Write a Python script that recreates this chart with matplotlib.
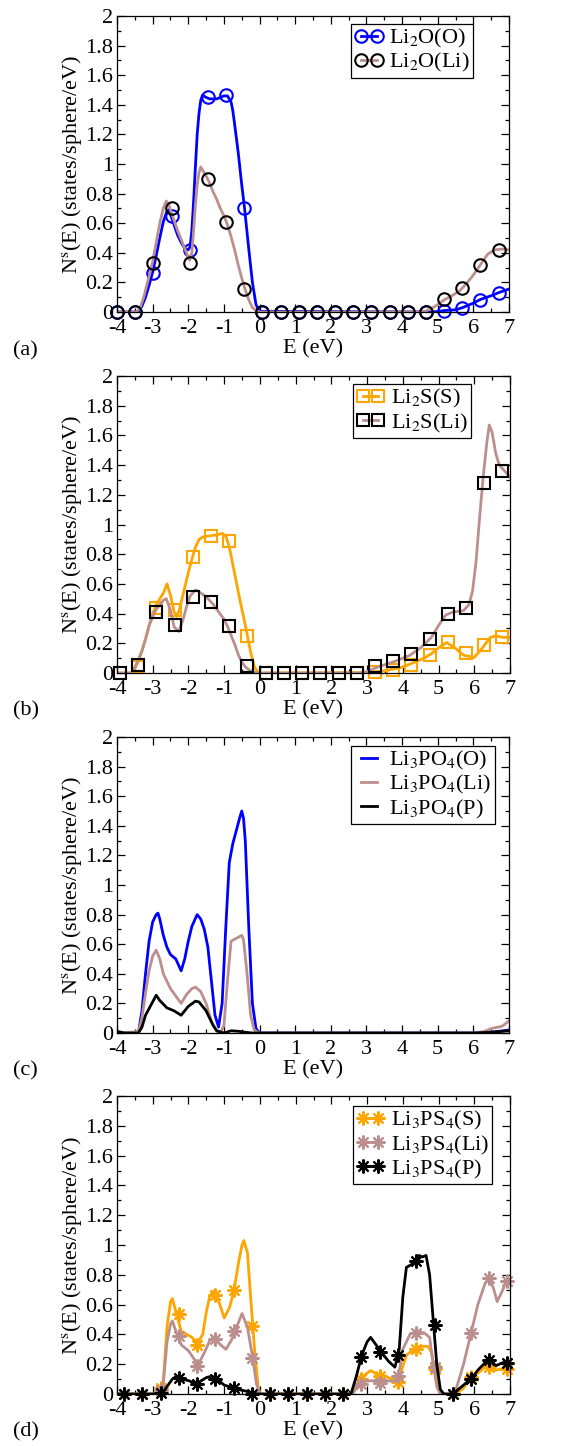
import matplotlib
matplotlib.use('Agg')
import matplotlib.pyplot as plt
from matplotlib.lines import Line2D
from matplotlib.ticker import MultipleLocator, FuncFormatter

plt.rcParams['font.family'] = ['Liberation Serif', 'STIXGeneral', 'DejaVu Serif']
plt.rcParams['mathtext.fontset'] = 'stix'
plt.rcParams['axes.unicode_minus'] = False

BLUE = '#0000FF'
BROWN = '#BC8F8F'
ORANGE = '#FFA500'
BLACK = '#000000'

# ---------------- panel (a): Li2O ----------------
a_E_O = [-4, -3.4, -3.3, -3.2, -3.1, -3.0, -2.9, -2.8, -2.7, -2.6, -2.55, -2.5, -2.4, -2.3, -2.2,
         -2.1, -2.0, -1.95, -1.9, -1.85, -1.8, -1.75, -1.7, -1.65, -1.6, -1.5, -1.4, -1.3, -1.2,
         -1.1, -1.0, -0.9, -0.8, -0.75, -0.7, -0.6, -0.5, -0.42, -0.3, -0.2, -0.1, 0.0,
         4.8, 5.0, 5.2, 5.5, 5.7, 6.0, 6.2, 6.5, 6.7, 7.0]
a_N_O = [0, 0, 0.04, 0.10, 0.18, 0.27, 0.38, 0.50, 0.61, 0.68, 0.69, 0.66, 0.59, 0.52, 0.47,
         0.43, 0.42, 0.44, 0.55, 0.75, 0.98, 1.20, 1.34, 1.43, 1.465, 1.45, 1.44, 1.44, 1.44,
         1.45, 1.46, 1.46, 1.42, 1.36, 1.27, 1.08, 0.86, 0.70, 0.42, 0.20, 0.05, 0.005,
         0.0, 0.003, 0.01, 0.015, 0.03, 0.06, 0.085, 0.11, 0.13, 0.155]
a_E_Li = [-4, -3.45, -3.35, -3.25, -3.1, -3.0, -2.9, -2.8, -2.7, -2.62, -2.55, -2.5, -2.4, -2.3,
          -2.2, -2.1, -2.0, -1.96, -1.9, -1.85, -1.8, -1.75, -1.7, -1.65, -1.6, -1.5, -1.4, -1.3,
          -1.2, -1.1, -1.0, -0.9, -0.8, -0.7, -0.6, -0.5, -0.4, -0.3, -0.2, -0.1, 0.0,
          4.6, 4.8, 5.0, 5.2, 5.4, 5.6, 5.8, 6.0, 6.2, 6.4, 6.6, 6.8, 7.0]
a_N_Li = [0, 0, 0.03, 0.10, 0.24, 0.34, 0.47, 0.60, 0.70, 0.75, 0.73, 0.69, 0.62, 0.55,
          0.49, 0.43, 0.37, 0.35, 0.40, 0.55, 0.72, 0.86, 0.94, 0.98, 0.96, 0.92, 0.87, 0.81,
          0.76, 0.70, 0.65, 0.59, 0.51, 0.42, 0.32, 0.23, 0.15, 0.08, 0.03, 0.01, 0.0,
          0.0, 0.02, 0.05, 0.085, 0.11, 0.14, 0.19, 0.25, 0.32, 0.39, 0.42, 0.425, 0.42]
a_mkE = [-4.0, -3.49, -2.98, -2.47, -1.96, -1.45, -0.94, -0.43, 0.08, 0.59, 1.10, 1.61, 2.12,
         2.63, 3.14, 3.65, 4.16, 4.67, 5.18, 5.69, 6.20, 6.71]
a_mk_O = [0, 0, 0.265, 0.65, 0.42, 1.455, 1.465, 0.70, 0, 0, 0, 0, 0, 0, 0, 0, 0, 0,
          0.005, 0.027, 0.083, 0.13]
a_mk_Li = [0, 0, 0.33, 0.70, 0.33, 0.90, 0.61, 0.155, 0, 0, 0, 0, 0, 0, 0, 0, 0, 0,
           0.09, 0.16, 0.32, 0.42]

# ---------------- panel (b): Li2S ----------------
b_E_S = [-4, -3.6, -3.5, -3.4, -3.3, -3.2, -3.1, -3.0, -2.9, -2.8, -2.7, -2.6, -2.5, -2.4, -2.33,
         -2.25, -2.1, -2.0, -1.9, -1.8, -1.7, -1.6, -1.5, -1.35, -1.2, -1.05, -0.95, -0.85, -0.75,
         -0.65, -0.55, -0.45, -0.35, -0.25, -0.15, -0.05, 0.0,
         3.0, 3.5, 4.0, 4.3, 4.6, 4.8, 5.0, 5.23, 5.45, 5.7, 6.0, 6.2, 6.45, 6.6, 6.8, 7.0]
b_N_S = [0, 0, 0.03, 0.08, 0.15, 0.23, 0.32, 0.40, 0.46, 0.50, 0.54, 0.60, 0.52, 0.41, 0.38,
         0.43, 0.58, 0.68, 0.77, 0.85, 0.90, 0.915, 0.92, 0.925, 0.93, 0.94, 0.92, 0.84, 0.72,
         0.60, 0.48, 0.37, 0.25, 0.13, 0.04, 0.005, 0.0,
         0.003, 0.015, 0.04, 0.07, 0.10, 0.13, 0.17, 0.205, 0.17, 0.12, 0.105, 0.16, 0.24, 0.25, 0.24, 0.24]
b_E_Li = [-4, -3.6, -3.5, -3.4, -3.3, -3.2, -3.1, -3.0, -2.9, -2.8, -2.7, -2.62, -2.5, -2.4,
          -2.27, -2.15, -2.05, -1.95, -1.8, -1.6, -1.45, -1.3, -1.15, -1.0, -0.9, -0.8, -0.7,
          -0.6, -0.5, -0.4, -0.3, -0.2, -0.1, 0.0,
          2.8, 3.0, 3.3, 3.8, 4.2, 4.5, 4.8, 5.0, 5.2, 5.4, 5.7, 5.85, 5.95, 6.05, 6.15, 6.25,
          6.35, 6.42, 6.5, 6.6, 6.7, 6.85, 7.0]
b_N_Li = [0, 0, 0.04, 0.09, 0.15, 0.23, 0.32, 0.38, 0.43, 0.46, 0.49, 0.50, 0.42, 0.31,
          0.28, 0.36, 0.45, 0.52, 0.56, 0.53, 0.50, 0.46, 0.41, 0.36, 0.31, 0.25, 0.19,
          0.12, 0.07, 0.04, 0.02, 0.01, 0.003, 0.0,
          0.0, 0.01, 0.04, 0.08, 0.12, 0.17, 0.24, 0.32, 0.39, 0.41, 0.42, 0.46, 0.55, 0.75, 1.05, 1.32,
          1.55, 1.67, 1.62, 1.48, 1.40, 1.36, 1.32]
b_mkE = [-3.92, -3.41, -2.90, -2.39, -1.88, -1.37, -0.86, -0.35, 0.16, 0.67, 1.18, 1.69, 2.20,
         2.71, 3.22, 3.73, 4.24, 4.75, 5.26, 5.77, 6.28, 6.79]
b_mk_S = [0, 0.04, 0.437, 0.425, 0.78, 0.92, 0.89, 0.25, 0, 0, 0, 0, 0, 0,
          0.007, 0.02, 0.056, 0.123, 0.21, 0.134, 0.19, 0.24]
b_mk_Li = [0, 0.056, 0.41, 0.32, 0.51, 0.477, 0.314, 0.045, 0, 0, 0, 0, 0, 0,
           0.05, 0.083, 0.13, 0.23, 0.40, 0.44, 1.28, 1.36]

# ---------------- panel (c): Li3PO4 ----------------
c_E_O = [-4, -3.8, -3.4, -3.3, -3.2, -3.1, -3.0, -2.9, -2.85, -2.8, -2.7, -2.6, -2.5, -2.35,
         -2.2, -2.1, -2.0, -1.9, -1.75, -1.65, -1.55, -1.45, -1.35, -1.25, -1.15, -1.05, -0.95,
         -0.85, -0.75, -0.65, -0.55, -0.5, -0.45, -0.4, -0.3, -0.2, -0.1, 0.0,
         6.0, 6.5, 7.0]
c_N_O = [0.01, 0.0, 0.0, 0.15, 0.40, 0.62, 0.75, 0.80, 0.81, 0.77, 0.66, 0.58, 0.53, 0.50,
         0.42, 0.50, 0.62, 0.72, 0.80, 0.77, 0.70, 0.58, 0.35, 0.12, 0.04, 0.20, 0.70,
         1.15, 1.28, 1.37, 1.46, 1.50, 1.45, 1.30, 0.70, 0.20, 0.03, 0.0,
         0.0, 0.005, 0.02]
c_E_Li = [-4, -3.8, -3.4, -3.3, -3.2, -3.1, -3.0, -2.9, -2.8, -2.7, -2.5, -2.35, -2.2, -2.05,
          -1.9, -1.8, -1.65, -1.5, -1.35, -1.2, -1.1, -1.0, -0.9, -0.8, -0.65, -0.5, -0.45,
          -0.35, -0.25, -0.15, 0.0,
          6.0, 6.3, 6.5, 6.8, 7.0]
c_N_Li = [0.01, 0.0, 0.01, 0.10, 0.27, 0.42, 0.52, 0.56, 0.50, 0.40, 0.30, 0.25, 0.20, 0.26,
          0.30, 0.31, 0.28, 0.20, 0.08, 0.01, 0.0, 0.05, 0.35, 0.62, 0.64, 0.66, 0.63,
          0.40, 0.12, 0.02, 0.0,
          0.0, 0.01, 0.03, 0.045, 0.08]
c_E_P = [-4, -3.8, -3.4, -3.3, -3.2, -3.0, -2.9, -2.8, -2.6, -2.4, -2.2, -2.0, -1.8, -1.7,
         -1.5, -1.3, -1.2, -1.0, -0.8, -0.6, -0.4, -0.2, 0.0,
         6.0, 6.5, 7.0]
c_N_P = [0.01, 0.0, 0.0, 0.04, 0.12, 0.21, 0.255, 0.22, 0.17, 0.15, 0.12, 0.18, 0.215, 0.21,
         0.15, 0.05, 0.015, 0.0, 0.015, 0.012, 0.005, 0.0, 0.0,
         0.0, 0.005, 0.015]

# ---------------- panel (d): Li3PS4 ----------------
d_E_S = [-4, -2.75, -2.7, -2.6, -2.5, -2.45, -2.35, -2.2, -2.05, -1.9, -1.75, -1.6, -1.5, -1.4,
         -1.3, -1.15, -1.0, -0.85, -0.72, -0.6, -0.5, -0.45, -0.35, -0.25, -0.15, -0.05, 0.0,
         2.55, 2.7, 2.85, 3.0, 3.1, 3.3, 3.5, 3.7, 3.85, 3.95, 4.1, 4.3, 4.5, 4.7, 4.8, 4.9,
         5.0, 5.1, 5.5, 5.7, 5.9, 6.1, 6.3, 6.45, 6.6, 6.8, 7.0]
d_N_S = [0, 0, 0.10, 0.45, 0.62, 0.64, 0.55, 0.42, 0.40, 0.38, 0.34, 0.40, 0.55, 0.66,
         0.69, 0.62, 0.51, 0.58, 0.70, 0.88, 1.0, 1.03, 0.95, 0.62, 0.30, 0.05, 0.0,
         0.0, 0.06, 0.11, 0.14, 0.157, 0.13, 0.12, 0.10, 0.08, 0.15, 0.26, 0.30, 0.32, 0.32, 0.28, 0.15,
         0.03, 0.0, 0.0, 0.04, 0.11, 0.14, 0.18, 0.19, 0.16, 0.17, 0.19]
d_E_Li = [-4, -2.75, -2.7, -2.6, -2.5, -2.45, -2.35, -2.2, -2.0, -1.8, -1.7, -1.55, -1.4, -1.3,
          -1.1, -0.95, -0.8, -0.65, -0.5, -0.35, -0.2, -0.1, 0.0,
          2.6, 2.75, 2.9, 3.2, 3.5, 3.8, 3.9, 4.0, 4.2, 4.4, 4.6, 4.75, 4.85, 4.95, 5.05,
          5.35, 5.5, 5.7, 5.9, 6.1, 6.3, 6.42, 6.55, 6.64, 6.8, 6.93, 7.0]
d_N_Li = [0, 0, 0.08, 0.35, 0.47, 0.49, 0.42, 0.33, 0.29, 0.22, 0.21, 0.28, 0.36, 0.38,
          0.33, 0.30, 0.36, 0.45, 0.54, 0.45, 0.24, 0.07, 0.0,
          0.0, 0.06, 0.085, 0.09, 0.09, 0.085, 0.15, 0.30, 0.40, 0.42, 0.41, 0.38, 0.20, 0.05, 0.0,
          0.0, 0.04, 0.20, 0.40, 0.60, 0.74, 0.78, 0.70, 0.62, 0.70, 0.78, 0.74]
d_E_P = [-4, -2.75, -2.6, -2.45, -2.33, -2.2, -2.0, -1.8, -1.7, -1.5, -1.35, -1.2, -1.0, -0.8,
         -0.6, -0.4, -0.2, 0.0,
         2.55, 2.7, 2.85, 3.0, 3.1, 3.25, 3.4, 3.6, 3.78, 3.9, 4.0, 4.1, 4.25, 4.35, 4.45, 4.55,
         4.65, 4.75, 4.85, 4.95, 5.05, 5.15, 5.4, 5.6, 5.9, 6.1, 6.3, 6.45, 6.6, 6.8, 7.0]
d_N_P = [0, 0, 0.05, 0.10, 0.12, 0.10, 0.09, 0.07, 0.08, 0.11, 0.12, 0.10, 0.06, 0.045,
         0.03, 0.02, 0.005, 0.0,
         0.0, 0.12, 0.26, 0.35, 0.38, 0.33, 0.28, 0.22, 0.18, 0.30, 0.65, 0.85, 0.87, 0.88, 0.93, 0.92,
         0.93, 0.80, 0.50, 0.20, 0.03, 0.0, 0.0, 0.04, 0.10, 0.16, 0.21, 0.23, 0.19, 0.21, 0.22]
d_mkE = [-3.80, -3.29, -2.78, -2.27, -1.76, -1.25, -0.73, -0.22, 0.29, 0.80, 1.31, 1.82, 2.33,
         2.84, 3.35, 3.87, 4.38, 4.89, 5.40, 5.91, 6.42, 6.93]
d_mk_S = [0, 0, 0.04, 0.535, 0.33, 0.665, 0.70, 0.457, 0, 0, 0, 0, 0,
          0.10, 0.123, 0.083, 0.30, 0.166, 0, 0.117, 0.18, 0.17]
d_mk_Li = [0, 0, 0.03, 0.386, 0.188, 0.368, 0.42, 0.24, 0, 0, 0, 0, 0,
           0.07, 0.075, 0.121, 0.41, 0.18, 0, 0.41, 0.778, 0.756]
d_mk_P = [0, 0, 0.01, 0.11, 0.065, 0.10, 0.04, 0.0, 0, 0, 0, 0, 0,
          0.25, 0.28, 0.26, 0.89, 0.46, 0, 0.10, 0.23, 0.21]

x_ticks = [-4, -3, -2, -1, 0, 1, 2, 3, 4, 5, 6, 7]
y_ticks = [0, 0.2, 0.4, 0.6, 0.8, 1.0, 1.2, 1.4, 1.6, 1.8, 2.0]

FS = 16
W, H = 565, 1446
fig = plt.figure(figsize=(W / 100, H / 100), dpi=100)

# axes pixel boxes: (left, top, right, bottom)
boxes = [(117, 16, 509, 312), (117, 376, 510, 673), (117, 737, 509, 1033), (117, 1096, 510, 1394)]
panel_tags = ['(a)', '(b)', '(c)', '(d)']
tag_y = [351, 711, 1071, 1432]
axes = []
for (l, t, r, b) in boxes:
    ax = fig.add_axes([l / W, 1 - b / H, (r - l) / W, (b - t) / H])
    ax.set_xlim(-4, 7)
    ax.set_ylim(0, 2)
    ax.set_xticks(x_ticks)
    ax.set_yticks(y_ticks)
    ax.xaxis.set_minor_locator(MultipleLocator(0.5))
    ax.yaxis.set_minor_locator(MultipleLocator(0.1))
    fmt = FuncFormatter(lambda v, p: '%g' % v)
    ax.xaxis.set_major_formatter(fmt)
    ax.yaxis.set_major_formatter(fmt)
    ax.tick_params(which='both', direction='in', top=True, right=True, labelsize=FS, width=0.9)
    ax.tick_params(which='major', length=6)
    ax.tick_params(axis='x', which='major', pad=5)
    ax.tick_params(axis='y', which='major', pad=3)
    ax.tick_params(which='minor', length=3)
    for s in ax.spines.values():
        s.set_linewidth(0.9)
    ax.set_xlabel('E (eV)', fontsize=FS)
    ax.set_ylabel(r'N$^{\rm s}$(E) (states/sphere/eV)', fontsize=FS)
    ax.xaxis.set_label_coords(0.5, -0.092)
    ax.yaxis.set_label_coords(-0.083, 0.5)
    axes.append(ax)

for ty, tag in zip(tag_y, panel_tags):
    fig.text(13 / W, 1 - ty / H, tag, fontsize=FS, va='center', ha='left')

LW = 2.0
leg_kw = dict(fontsize=FS, frameon=True, fancybox=False, framealpha=1, edgecolor='black',
              handlelength=1.3, handletextpad=0.25, labelspacing=0.05, borderpad=0.15,
              borderaxespad=0, numpoints=2, loc='upper left')


def legend(ax, handles, labels, anchor):
    lg = ax.legend(handles, labels, bbox_to_anchor=anchor, **leg_kw)
    lg.get_frame().set_linewidth(0.9)


# (a)
ax = axes[0]
ax.plot(a_E_O, a_N_O, color=BLUE, lw=LW)
ax.plot(a_mkE, a_mk_O, ls='none', marker='o', ms=9, mfc='none', mec=BLUE, mew=1.5, clip_on=False)
ax.plot(a_E_Li, a_N_Li, color=BROWN, lw=LW)
ax.plot(a_mkE, a_mk_Li, ls='none', marker='o', ms=9, mfc='none', mec=BLACK, mew=1.5, clip_on=False)
h1 = Line2D([], [], color=BLUE, lw=LW, marker='o', ms=9, mfc='none', mec=BLUE, mew=1.5)
h2 = Line2D([], [], color=BROWN, lw=LW, marker='o', ms=9, mfc='none', mec=BLACK, mew=1.5)
legend(ax, [h1, h2], [r'Li$_2$O(O)', r'Li$_2$O(Li)'], (0.598, 0.973))

# (b)
ax = axes[1]
ax.plot(b_E_S, b_N_S, color=ORANGE, lw=LW)
ax.plot(b_mkE, b_mk_S, ls='none', marker='s', ms=8, mfc='none', mec=ORANGE, mew=1.5, clip_on=False)
ax.plot(b_E_Li, b_N_Li, color=BROWN, lw=LW)
ax.plot(b_mkE, b_mk_Li, ls='none', marker='s', ms=8, mfc='none', mec=BLACK, mew=1.5, clip_on=False)
h1 = Line2D([], [], color=ORANGE, lw=LW, marker='s', ms=8, mfc='none', mec=ORANGE, mew=1.5)
h2 = Line2D([], [], color=BROWN, lw=LW, marker='s', ms=8, mfc='none', mec=BLACK, mew=1.5)
legend(ax, [h1, h2], [r'Li$_2$S(S)', r'Li$_2$S(Li)'], (0.60, 0.973))

# (c)
ax = axes[2]
ax.plot(c_E_O, c_N_O, color=BLUE, lw=LW)
ax.plot(c_E_Li, c_N_Li, color=BROWN, lw=LW)
ax.plot(c_E_P, c_N_P, color=BLACK, lw=LW)
hs = [Line2D([], [], color=c, lw=LW) for c in (BLUE, BROWN, BLACK)]
legend(ax, hs, [r'Li$_3$PO$_4$(O)', r'Li$_3$PO$_4$(Li)', r'Li$_3$PO$_4$(P)'], (0.598, 0.97))

# (d)
ax = axes[3]
STAR = (8, 2, 0)
for E, N, mk, col in ((d_E_S, d_N_S, d_mk_S, ORANGE), (d_E_Li, d_N_Li, d_mk_Li, BROWN),
                      (d_E_P, d_N_P, d_mk_P, BLACK)):
    ax.plot(E, N, color=col, lw=LW)
    ax.plot(d_mkE, mk, ls='none', marker=STAR, ms=10, mec=col, mew=1.5, clip_on=False)
hs = [Line2D([], [], color=c, lw=LW, marker=STAR, ms=10, mec=c, mew=1.5) for c in (ORANGE, BROWN, BLACK)]
legend(ax, hs, [r'Li$_3$PS$_4$(S)', r'Li$_3$PS$_4$(Li)', r'Li$_3$PS$_4$(P)'], (0.60, 0.966))

fig.savefig('out.png', dpi=100)
